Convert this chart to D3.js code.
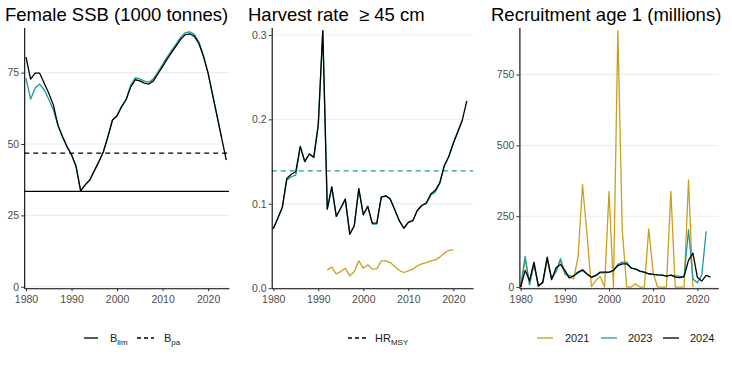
<!DOCTYPE html>
<html><head><meta charset="utf-8">
<script src="https://cdn.jsdelivr.net/npm/d3@7"></script>
<style>body{margin:0;background:#fff} text{font-family:"Liberation Sans",Arial,sans-serif}</style>
</head><body><svg id="c" width="732" height="366"></svg>
<script>
// ---------- data ----------
const xTicks = [1980, 1990, 2000, 2010, 2020];
const ssbTicks = [0, 25, 50, 75];
const hrTicks = [0, 0.1, 0.2, 0.3];
const recTicks = [0, 250, 500, 750];

const ssb2024Start = 1980;
const ssb2024 = [80.4,72.7,74.8,74.8,71.3,67.8,63.7,56.7,52.6,49.1,46.2,42.1,33.6,35.7,37.4,40.6,43.8,47.3,52.6,58.4,59.9,63.1,65.5,70.0,72.5,72.1,71.3,71.0,72.1,74.6,77.1,79.7,82.1,84.4,86.7,88.3,88.6,87.7,85.1,80.6,74.8,67.2,59.6,52.0,44.4];
const ssb2023Start = 1980;
const ssb2023 = [73.1,65.7,69.6,71.0,69.0,65.7,62.0,56.5,52.6,49.1,46.2,42.1,33.6,35.7,37.4,40.6,43.8,47.3,52.6,58.4,59.9,63.1,65.7,70.6,73.2,72.8,72.0,71.7,72.8,75.3,77.8,80.4,82.8,85.1,87.4,89.0,89.3,88.4,85.7,81.0,75.0,67.3,59.7,52.1];
const Blim = 33.4, Bpa = 46.8;

const hr2024Start = 1980;
const hr2024 = [0.0703,0.083,0.0955,0.130,0.135,0.138,0.168,0.150,0.159,0.155,0.1935,0.305,0.0937,0.120,0.085,0.095,0.1055,0.064,0.074,0.118,0.087,0.097,0.077,0.077,0.108,0.1095,0.1055,0.093,0.080,0.071,0.078,0.080,0.092,0.098,0.1008,0.1115,0.116,0.125,0.145,0.156,0.1717,0.1854,0.199,0.222];
const hr2023Start = 1980;
const hr2023 = [0.0703,0.083,0.0955,0.128,0.132,0.134,0.168,0.150,0.159,0.155,0.1935,0.305,0.0937,0.120,0.085,0.095,0.1055,0.064,0.074,0.118,0.087,0.097,0.076,0.076,0.108,0.1095,0.1055,0.093,0.080,0.071,0.078,0.080,0.092,0.098,0.1005,0.110,0.114,0.124,0.145,0.156,0.1717,0.1854,0.199];
const hr2021Start = 1992;
const hr2021 = [0.0217,0.0249,0.017,0.0198,0.0237,0.0146,0.0198,0.0324,0.0237,0.0277,0.0225,0.0229,0.0324,0.0324,0.0304,0.0257,0.021,0.0186,0.0206,0.0225,0.0265,0.0289,0.0304,0.0324,0.0336,0.0368,0.0415,0.0447,0.0455];
const HRmsy = 0.139;

const rec2024Start = 1980;
const rec2024 = [0,59,23,88,3,18,106,26,68,80,59,32,40,53,61,47,35,41,53,53,53,59,76,82,82,68,63,56,53,47,45,43,42,39,42,35,33,38,94,120,35,21,41,35];
const rec2023Start = 1980;
const rec2023 = [0,108,8,80,5,15,100,30,55,100,50,40,38,50,58,45,33,40,50,50,52,58,80,88,88,66,65,55,52,46,45,43,42,39,42,40,38,35,202,29,15,41,197];
const rec2021Start = 1980;
const rec2021 = [0,100,10,80,5,15,95,30,55,95,45,35,29,108,361,188,2,23,37,0,338,0,905,200,0,0,12,0,0,205,50,0,0,0,338,0,0,0,378,0];

const colors = {"2021": "#C9A01E", "2023": "#1E9A9C", "2024": "#000000"};

// ---------- drawing ----------
const svg = d3.select("#c");
svg.append("rect").attr("width", 732).attr("height", 366).attr("fill", "#fff");

function toPts(start, vals) { return vals.map((v, i) => [start + i, v]); }

function panel(cfg) {
  const x = d3.scaleLinear().domain(cfg.xd).range(cfg.xr);
  const y = d3.scaleLinear().domain(cfg.yd).range([288.2, 27.5]);
  const g = svg.append("g");
  g.selectAll(".grid").data(cfg.yTicks).join("line")
    .attr("x1", cfg.xr[0]).attr("x2", cfg.xr[1])
    .attr("y1", d => y(d)).attr("y2", d => y(d))
    .attr("stroke", "#EBEBEB").attr("stroke-width", 1);
  (cfg.refs || []).forEach(r => {
    g.append("line").attr("x1", cfg.xr[0]).attr("x2", cfg.xr[1])
      .attr("y1", y(r.v)).attr("y2", y(r.v))
      .attr("stroke", r.color).attr("stroke-width", 1.3)
      .attr("stroke-dasharray", r.dash || null);
  });
  const line = d3.line().x(d => x(d[0])).y(d => y(d[1]));
  cfg.series.forEach(s => {
    g.append("path").datum(toPts(s.start, s.vals)).attr("d", line)
      .attr("fill", "none").attr("stroke", s.color).attr("stroke-width", 1.3)
      .attr("stroke-linejoin", "round");
  });
  const ax = g.append("g").attr("transform", `translate(0,${y.range()[0]})`)
    .call(d3.axisBottom(x).tickValues(xTicks).tickFormat(d3.format("d")).tickSize(3).tickSizeOuter(0).tickPadding(4));
  const ay = g.append("g").attr("transform", `translate(${cfg.xr[0]},0)`)
    .call(d3.axisLeft(y).tickValues(cfg.yTicks).tickFormat(cfg.yfmt).tickSize(3).tickSizeOuter(0).tickPadding(2));
  [ax, ay].forEach(a => {
    a.select(".domain").attr("stroke", "#000").attr("stroke-width", 1.1);
    a.selectAll(".tick line").attr("stroke", "#333");
    a.selectAll("text").attr("fill", "#4D4D4D").attr("font-size", 10.5)
      .attr("font-family", "'Liberation Sans', Arial, sans-serif");
  });
  svg.append("text").attr("x", cfg.tx).attr("y", 21).attr("font-size", 18.5)
    .attr("fill", "#000").attr("xml:space", "preserve").text(cfg.title);
}

panel({
  title: "Female SSB (1000 tonnes)", tx: 5,
  xd: [1979.6, 2024.6], xr: [24.2, 229],
  yd: [-0.5, 90.8], yTicks: ssbTicks, yfmt: d3.format("d"),
  refs: [{v: Blim, color: "#000"}, {v: Bpa, color: "#000", dash: "5,4"}],
  series: [
    {start: ssb2023Start, vals: ssb2023, color: colors["2023"]},
    {start: ssb2024Start, vals: ssb2024, color: colors["2024"]}
  ]
});
panel({
  title: "Harvest rate \u00a0\u2265 45 cm", tx: 248,
  xd: [1979.65, 2024.4], xr: [271.7, 473.1],
  yd: [0, 0.3088], yTicks: hrTicks, yfmt: d3.format(".1f"),
  refs: [{v: HRmsy, color: colors["2023"], dash: "5,4"}],
  series: [
    {start: hr2021Start, vals: hr2021, color: colors["2021"]},
    {start: hr2023Start, vals: hr2023, color: colors["2023"]},
    {start: hr2024Start, vals: hr2024, color: colors["2024"]}
  ]
});
panel({
  title: "Recruitment age 1 (millions)", tx: 491,
  xd: [1979.7, 2024.75], xr: [519.4, 718.3],
  yd: [-4, 916], yTicks: recTicks, yfmt: d3.format("d"),
  series: [
    {start: rec2021Start, vals: rec2021, color: colors["2021"]},
    {start: rec2023Start, vals: rec2023, color: colors["2023"]},
    {start: rec2024Start, vals: rec2024, color: colors["2024"]}
  ]
});

// ---------- legends ----------
const ly = 338;
function legLine(x1, x2, color, dash) {
  svg.append("line").attr("x1", x1).attr("x2", x2).attr("y1", ly).attr("y2", ly)
    .attr("stroke", color).attr("stroke-width", 1.3).attr("stroke-dasharray", dash || null);
}
function legText(x, main, sub) {
  const t = svg.append("text").attr("x", x).attr("y", ly + 4).attr("font-size", 11).attr("fill", "#1a1a1a");
  t.append("tspan").attr("fill", "#1a1a1a").text(main);
  if (sub) t.append("tspan").attr("fill", "#1a1a1a").attr("font-size", 8).attr("dy", 3).text(sub);
}
legLine(84, 98, "#000");
legText(110, "B", "lim");
legLine(137, 154, "#000", "4,3");
legText(164, "B", "pa");
legLine(348, 366, "#000", "4,3");
legText(375, "HR", "MSY");
const recLeg = [["2021", 537, 565], ["2023", 601, 628], ["2024", 663, 690]];
recLeg.forEach(([lab, lx, tx]) => { legLine(lx, lx + 16, colors[lab]); legText(tx, lab); });
</script></body></html>
